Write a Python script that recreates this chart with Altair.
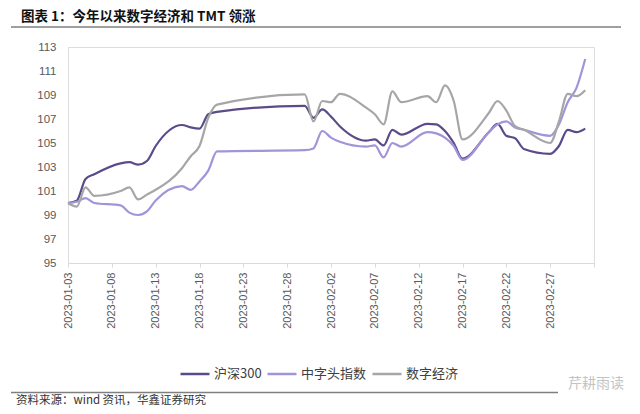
import altair as alt
import pandas as pd

# ---- data ----
dates = ["2023-01-03", "2023-01-04", "2023-01-05", "2023-01-06", "2023-01-09",
         "2023-01-10", "2023-01-11", "2023-01-12", "2023-01-13", "2023-01-16",
         "2023-01-17", "2023-01-18", "2023-01-19", "2023-01-20", "2023-01-30",
         "2023-01-31", "2023-02-01", "2023-02-02", "2023-02-03", "2023-02-06",
         "2023-02-07", "2023-02-08", "2023-02-09", "2023-02-10", "2023-02-13",
         "2023-02-14", "2023-02-15", "2023-02-16", "2023-02-17", "2023-02-20",
         "2023-02-21", "2023-02-22", "2023-02-23", "2023-02-24", "2023-02-27",
         "2023-02-28", "2023-03-01", "2023-03-02", "2023-03-03"]

hs300 = [100.0, 100.2, 102.0, 102.4, 103.3, 103.4, 103.2, 103.5, 104.75, 106.5,
         106.3, 106.2, 107.4, 107.6, 108.1, 107.1, 107.8, 107.2, 106.4, 105.2,
         105.3, 104.8, 106.1, 105.7, 106.6, 106.55, 106.0, 105.0, 103.7, 105.9,
         106.6, 105.6, 105.4, 104.5, 104.1, 104.75, 106.1, 105.9, 106.2]

zhongzi = [100.0, 100.1, 100.4, 100.0, 99.8, 99.2, 99.0, 99.3, 100.2, 101.4,
           101.1, 101.8, 102.7, 104.3, 104.4, 104.55, 106.0, 105.45, 105.1, 104.7,
           104.8, 103.8, 105.0, 104.7, 105.9, 105.8, 105.45, 104.75, 103.6, 105.9,
           106.55, 106.8, 106.3, 106.1, 105.6, 106.55, 108.4, 109.6, 112.0]

digital = [100.0, 99.7, 101.3, 100.6, 101.0, 101.3, 100.3, 100.7, 101.1, 102.9,
           103.9, 104.75, 107.1, 108.2, 109.05, 106.8, 108.5, 108.4, 109.1, 107.95,
           107.4, 106.55, 109.3, 108.4, 108.9, 108.4, 109.8, 108.5, 105.3, 107.5,
           108.5, 107.7, 106.4, 106.1, 105.0, 106.8, 109.1, 108.9, 109.4]

series_names = ["沪深300", "中字头指数", "数字经济"]
series_colors = ["#5b4b8a", "#a394d9", "#a6a6a6"]

y_ticks = [95, 97, 99, 101, 103, 105, 107, 109, 111, 113]
x_ticks = ["2023-01-03", "2023-01-08", "2023-01-13", "2023-01-18", "2023-01-23",
           "2023-01-28", "2023-02-02", "2023-02-07", "2023-02-12", "2023-02-17",
           "2023-02-22", "2023-02-27", "2023-03-04"]

title_text = "图表 1：今年以来数字经济和 TMT 领涨"
source_text = "资料来源：wind 资讯，华鑫证券研究"
watermark_text = "芹耕雨读"

# ---- build table ----
rows = []
for name, vals in zip(series_names, [hs300, zhongzi, digital]):
    for d, v in zip(dates, vals):
        rows.append({"date": d, "value": v, "series": name})
df = pd.DataFrame(rows)


def dt(s):
    y, m, d = (int(p) for p in s.split("-"))
    return alt.DateTime(year=y, month=m, date=d, utc=True)


CJK = "Noto Sans CJK SC"
NUM = "Liberation Sans"

lines = alt.Chart(df).mark_line(strokeWidth=2.2, interpolate="monotone").encode(
    x=alt.X("date:T",
            scale=alt.Scale(type="utc", domain=[dt("2023-01-03"), dt("2023-03-04")]),
            axis=alt.Axis(values=[dt(s) for s in x_ticks],
                          labelExpr="(utcmonth(datum.value)==2 && utcdate(datum.value)==4) ? '' : utcFormat(datum.value, '%Y-%m-%d')",
                          labelAngle=270, labelPadding=5, tickSize=4,
                          tickColor="#d9d9d9", domainColor="#d9d9d9",
                          labelFont=NUM, labelFontSize=11, labelColor="#595959",
                          grid=False, title=None)),
    y=alt.Y("value:Q",
            scale=alt.Scale(domain=[95, 113], nice=False, zero=False),
            axis=alt.Axis(values=y_ticks, domain=False, ticks=False, grid=False,
                          labelPadding=12, labelFont=NUM, labelFontSize=11.5,
                          labelColor="#595959", title=None)),
    color=alt.Color("series:N",
                    scale=alt.Scale(domain=series_names, range=series_colors),
                    sort=series_names,
                    legend=alt.Legend(orient="none", legendX=111, legendY=311,
                                      direction="horizontal", title=None,
                                      symbolType="stroke", symbolStrokeWidth=2.5,
                                      symbolSize=841, labelFont=CJK,
                                      labelFontSize=13, labelColor="#404040",
                                      columnPadding=0, labelOffset=3, padding=0)),
)

one = pd.DataFrame({"t": [title_text]})

title = alt.Chart(one).mark_text(align="left", baseline="middle", font=CJK,
                                 fontSize=13.5, fontWeight="bold", color="#111111").encode(
    text="t:N", x=alt.value(-47), y=alt.value(-30))

title_rule = alt.Chart(one).mark_rule(color="#7f7f7f", strokeWidth=1.6).encode(
    x=alt.value(-57), x2=alt.value(553), y=alt.value(-20))

foot_rule = alt.Chart(one).mark_rule(color="#7f7f7f", strokeWidth=1.6).encode(
    x=alt.value(-57), x2=alt.value(490), y=alt.value(345.5))

source = alt.Chart(pd.DataFrame({"t": [source_text]})).mark_text(
    align="left", baseline="middle", font=CJK, fontSize=11.5, color="#333333").encode(
    text="t:N", x=alt.value(-52), y=alt.value(353.5))

watermark = alt.Chart(pd.DataFrame({"t": [watermark_text]})).mark_text(
    align="left", baseline="middle", font=CJK, fontSize=14, color="#c4c4c4").encode(
    text="t:N", x=alt.value(500), y=alt.value(337))

chart = alt.layer(lines, title, title_rule, foot_rule, source, watermark).properties(
    width=526, height=216,
    autosize=alt.AutoSizeParams(type="pad"),
    padding={"left": 2, "top": 2, "right": 4, "bottom": 1},
).configure_view(stroke=None).configure(background="white")

chart.save("out.html", embed_options={"renderer": "svg", "actions": False})
